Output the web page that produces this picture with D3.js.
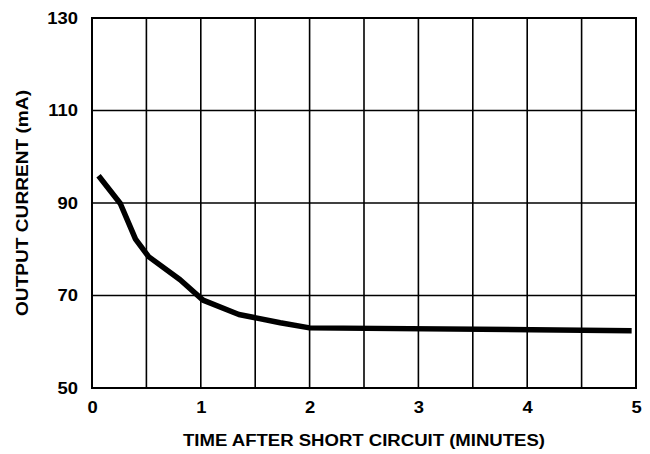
<!DOCTYPE html>
<html>
<head>
<meta charset="utf-8">
<script src="https://cdn.jsdelivr.net/npm/d3@7"></script>
<style>
  body { margin: 0; background: #fff; }
  text { font-family: "Liberation Sans", Arial, sans-serif; font-weight: bold; fill: #000; }
</style>
</head>
<body>
<div id="chart"></div>
<script>
const width = 650;
const height = 454;

// data
const timeMin = [0.06, 0.26, 0.40, 0.52, 0.81, 1.02, 1.35, 1.73, 2.0, 4.96];
const currentMa = [95.9, 89.9, 82.2, 78.4, 73.4, 69.0, 65.9, 64.1, 63.0, 62.4];
const xTicks = [0, 1, 2, 3, 4, 5];
const xGrid = [0.5, 1, 1.5, 2, 2.5, 3, 3.5, 4, 4.5];
const yTicks = [50, 70, 90, 110, 130];

const margin = { top: 18, right: 14, bottom: 66, left: 92 };
const stretch = 1.15; // the original lettering is a bit wider than Arial

const svg = d3.select("#chart")
    .append("svg")
    .attr("width", width)
    .attr("height", height);

const x = d3.scaleLinear().domain([0, 5]).range([margin.left, width - margin.right]);
const y = d3.scaleLinear().domain([50, 130]).range([height - margin.bottom, margin.top]);

const g = svg.append("g");

// grid
g.selectAll(".vgrid")
    .data(xGrid)
    .join("line")
    .attr("x1", d => x(d)).attr("x2", d => x(d))
    .attr("y1", y(130)).attr("y2", y(50))
    .attr("stroke", "#000").attr("stroke-width", 1.6);

g.selectAll(".hgrid")
    .data(yTicks.slice(1, -1))
    .join("line")
    .attr("x1", x(0)).attr("x2", x(5))
    .attr("y1", d => y(d)).attr("y2", d => y(d))
    .attr("stroke", "#000").attr("stroke-width", 1.6);

// frame
g.append("rect")
    .attr("x", x(0)).attr("y", y(130))
    .attr("width", x(5) - x(0)).attr("height", y(50) - y(130))
    .attr("fill", "none").attr("stroke", "#000").attr("stroke-width", 2);

// tick labels
const xAxis = d3.axisBottom(x).tickValues(xTicks).tickFormat(d3.format("d")).tickSize(0).tickPadding(14);
svg.append("g")
    .attr("transform", `translate(0,${y(50)})`)
    .call(xAxis)
    .call(a => a.select(".domain").remove())
    .selectAll("text")
    .attr("font-size", 16)
    .attr("font-family", null);

const yAxis = d3.axisLeft(y).tickValues(yTicks).tickFormat(d3.format("d")).tickSize(0).tickPadding(14);
svg.append("g")
    .attr("transform", `translate(${x(0)},0)`)
    .call(yAxis)
    .call(a => a.select(".domain").remove())
    .selectAll("text")
    .attr("font-size", 16)
    .attr("font-family", null)
    .attr("x", -14 / stretch)
    .attr("transform", `scale(${stretch},1)`);

// widen x tick labels around their centres
svg.selectAll("g.tick text").filter(function () {
    return this.parentNode.parentNode.getAttribute("transform").startsWith("translate(0,");
}).attr("transform", `scale(${stretch},1)`);

// curve
const pts = timeMin.map((t, i) => [t, currentMa[i]]);
svg.append("path")
    .datum(pts)
    .attr("fill", "none")
    .attr("stroke", "#000")
    .attr("stroke-width", 5.5)
    .attr("stroke-linejoin", "round")
    .attr("d", d3.line().x(d => x(d[0])).y(d => y(d[1])));

// titles
svg.append("text")
    .attr("x", (x(0) + x(5)) / 2)
    .attr("y", 446)
    .attr("text-anchor", "middle")
    .attr("font-size", 16)
    .attr("textLength", 362)
    .attr("lengthAdjust", "spacingAndGlyphs")
    .text("TIME AFTER SHORT CIRCUIT (MINUTES)");

svg.append("text")
    .attr("transform", `translate(28,${(y(50) + y(130)) / 2}) rotate(-90)`)
    .attr("text-anchor", "middle")
    .attr("font-size", 16)
    .attr("textLength", 226)
    .attr("lengthAdjust", "spacingAndGlyphs")
    .text("OUTPUT CURRENT (mA)");
</script>
</body>
</html>
